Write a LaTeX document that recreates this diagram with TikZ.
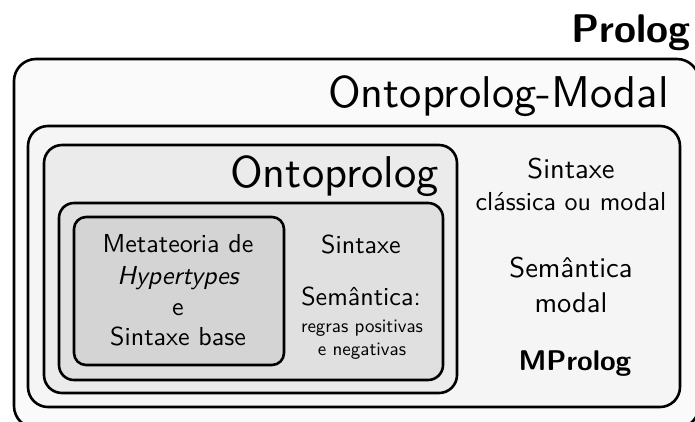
\documentclass[tikz,border=0pt]{standalone}
\usepackage{fontspec}
\setsansfont{lmsans10-regular.otf}[BoldFont=lmsans10-bold.otf, ItalicFont=lmsans10-oblique.otf]
\begin{document}
\begin{tikzpicture}[x=1pt,y=-1pt,
  layer/.style={draw=black, line width=2.6pt, rounded corners=#1, inner sep=0pt, outer sep=0pt},
  lbl/.style={inner sep=0pt, font=\sffamily\fontsize{26}{30}\selectfont, anchor=base},
  sml/.style={inner sep=0pt, font=\sffamily\fontsize{19}{22}\selectfont, anchor=base},
  big/.style={inner sep=0pt, font=\sffamily\fontsize{28.5}{32}\selectfont, anchor=base},
  title/.style={inner sep=0pt, font=\sffamily\fontsize{44.5}{50}\selectfont},
]
\useasboundingbox (0,0) rectangle (695,421);
\clip (0,0) rectangle (695,421);

% nested rounded layers, outermost first
\draw[layer=22, fill=black!2] (14,59) rectangle (699,428);
\draw[layer=20, fill=black!4] (28,126) rectangle (680,407);
\draw[layer=18, fill=black!8] (44,145) rectangle (457,393);
\draw[layer=15, fill=black!12] (59,203) rectangle (443,380);
\draw[layer=12, fill=black!17] (74,217) rectangle (284,365);

% layer titles
\node[inner sep=0pt, anchor=base west, font=\sffamily\bfseries\fontsize{40}{46}\selectfont] (prolog) at (571,42) {Prolog};
\node[title, anchor=base east] (ontomodal) at (669,107) {Ontoprolog-Modal};
\node[title, anchor=base west] (onto) at (230,187) {Ontoprolog};

% innermost box
\node[lbl] (meta1) at (178,252) {Metateoria de};
\node[lbl] (meta2) at (178,284) {\itshape Hypertypes};
\node[lbl] (meta3) at (178,315) {e};
\node[lbl] (meta4) at (178,345) {Sintaxe base};

% Ontoprolog core box
\node[lbl] (sint) at (361,253) {Sintaxe};
\node[lbl] (sem) at (361,305) {Semântica:};
\node[sml] (regras1) at (362,332) {regras positivas};
\node[sml] (regras2) at (362,355) {e negativas};

% modal column
\node[big] (msint) at (571,178) {Sintaxe};
\node[lbl] (mclass) at (571,210) {clássica ou modal};
\node[big] (msem) at (571,277) {Semântica};
\node[big] (mmodal) at (571,312) {modal};
\node[big, font=\sffamily\bfseries\fontsize{28.5}{32}\selectfont] (mprolog) at (575,370) {MProlog};
\end{tikzpicture}
\end{document}
